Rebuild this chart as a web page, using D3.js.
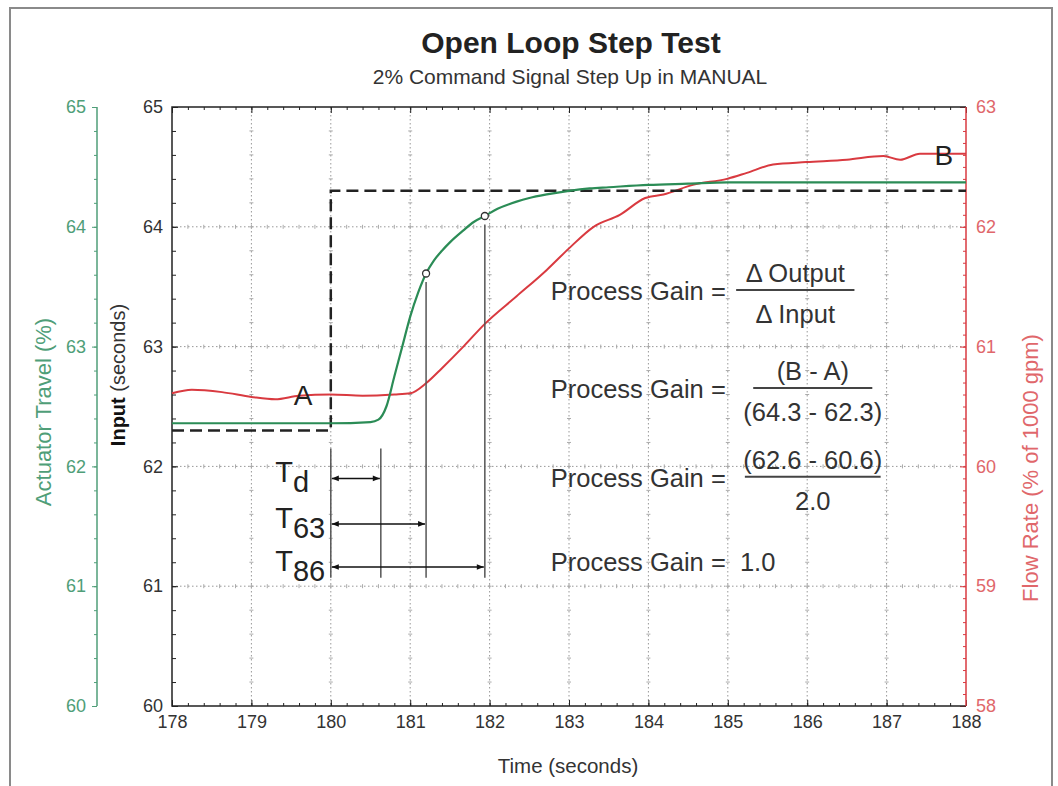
<!DOCTYPE html>
<html>
<head>
<meta charset="utf-8">
<script src="https://cdn.jsdelivr.net/npm/d3@7"></script>
<style>
  body { margin: 0; background: #fff; }
  svg text { font-family: "Liberation Sans", Arial, sans-serif; }
</style>
</head>
<body>
<div id="chart"></div>
<script>
// ---- data ----
const timeTicks = [178, 179, 180, 181, 182, 183, 184, 185, 186, 187, 188];
const percentTicks = [60, 61, 62, 63, 64, 65];
const flowTicks = [58, 59, 60, 61, 62, 63];

// actuator travel (%), left green axis
const actuatorTime = [178, 179, 180, 180.5, 180.6, 180.7, 180.8, 180.9, 181.0, 181.1, 181.2, 181.3, 181.4, 181.5, 181.67, 181.8, 181.94, 182.1, 182.34, 182.5, 182.72, 183.0, 183.26, 183.5, 184, 184.5, 185, 186, 187, 188];
const actuatorValue = [62.36, 62.36, 62.36, 62.37, 62.39, 62.5, 62.75, 63.0, 63.25, 63.45, 63.61, 63.72, 63.8, 63.87, 63.97, 64.04, 64.09, 64.15, 64.21, 64.24, 64.27, 64.3, 64.32, 64.33, 64.35, 64.36, 64.37, 64.37, 64.37, 64.37];

// input command (dashed)
const inputTime = [178, 180, 180, 188];
const inputValue = [62.3, 62.3, 64.3, 64.3];

// flow rate (% of 1000 gpm), right red axis
const flowTime = [178, 178.25, 178.63, 179.0, 179.3, 179.6, 180.0, 180.4, 180.8, 181.0, 181.21, 181.4, 181.67, 181.94, 182.34, 182.72, 183.0, 183.31, 183.64, 183.96, 184.19, 184.56, 184.99, 185.24, 185.57, 185.99, 186.5, 186.96, 187.17, 187.42, 188];
const flowValue = [60.61, 60.64, 60.62, 60.58, 60.56, 60.59, 60.60, 60.59, 60.60, 60.61, 60.70, 60.82, 61.0, 61.19, 61.42, 61.64, 61.82, 62.0, 62.10, 62.24, 62.27, 62.35, 62.40, 62.45, 62.52, 62.54, 62.56, 62.59, 62.56, 62.61, 62.61];

// 63% and 86% points on the actuator curve, dead time end
const markerTime = [181.2, 181.94];
const markerValue = [63.61, 64.09];
const deadTimeEnd = 180.63;

// process gain text rows
const gainRows = [
  { value: 63.39, num: "\u0394 Output", den: "\u0394 Input", center: 185.85, span: 1.49 },
  { value: 62.57, num: "(B - A)", den: "(64.3 - 62.3)", center: 186.07, span: 1.5 },
  { value: 61.83, num: "(62.6 - 60.6)", den: "2.0", center: 186.07, span: 1.71 },
  { value: 61.13, result: "1.0" }
];

// ---- layout ----
const width = 1058, height = 786;
const plot = { left: 172, right: 966, top: 107, bottom: 706 };
const greenAxisX = 97;
const green = "#2b8c56", greenText = "#4f9e78";
const red = "#d93a40", redText = "#e0676b";
const dark = "#333";
const tickFont = 18;

const svg = d3.select("#chart").append("svg")
  .attr("width", width)
  .attr("height", height);

const x = d3.scaleLinear().domain([178, 188]).range([plot.left, plot.right]);
const yPct = d3.scaleLinear().domain([60, 65]).range([plot.bottom, plot.top]);
const yFlow = d3.scaleLinear().domain([58, 63]).range([plot.bottom, plot.top]);

// outer frame
svg.append("path")
  .attr("d", `M10,${height} V8 H1052 V${height}`)
  .attr("fill", "none")
  .attr("stroke", "#8a8a8a")
  .attr("stroke-width", 2);

// titles
svg.append("text")
  .attr("x", 571).attr("y", 53)
  .attr("text-anchor", "middle")
  .style("font-size", "30px").style("font-weight", "bold")
  .attr("fill", "#222")
  .text("Open Loop Step Test");

svg.append("text")
  .attr("x", 570).attr("y", 84)
  .attr("text-anchor", "middle")
  .style("font-size", "21px")
  .attr("fill", dark)
  .text("2% Command Signal Step Up in MANUAL");

// ---- grid ----
const grid = svg.append("g");
grid.selectAll(".vgrid")
  .data(timeTicks.slice(1, -1))
  .join("line")
  .attr("x1", d => x(d)).attr("x2", d => x(d))
  .attr("y1", plot.top).attr("y2", plot.bottom)
  .attr("stroke", "#999").attr("stroke-dasharray", "1.5,2.5");
grid.selectAll(".hgrid")
  .data(percentTicks.slice(1, -1))
  .join("line")
  .attr("x1", plot.left).attr("x2", plot.right)
  .attr("y1", d => yPct(d)).attr("y2", d => yPct(d))
  .attr("stroke", "#999").attr("stroke-dasharray", "1.5,2.5");

// little tick marks along the grid lines
const minorY = d3.range(60.2, 64.9, 0.2);
const minorX = d3.range(178.2, 187.9, 0.2);
const crossV = timeTicks.slice(1, -1).flatMap(t => minorY.map(v => [t, v]));
const crossH = percentTicks.slice(1, -1).flatMap(v => minorX.map(t => [t, v]));
grid.selectAll(".cv").data(crossV).join("line")
  .attr("x1", d => x(d[0]) - 2).attr("x2", d => x(d[0]) + 2)
  .attr("y1", d => yPct(d[1])).attr("y2", d => yPct(d[1]))
  .attr("stroke", "#aaa");
grid.selectAll(".ch").data(crossH).join("line")
  .attr("x1", d => x(d[0])).attr("x2", d => x(d[0]))
  .attr("y1", d => yPct(d[1]) - 2).attr("y2", d => yPct(d[1]) + 2)
  .attr("stroke", "#aaa");

// ---- axes ----
function styleAxis(g, lineColor, textColor) {
  g.select(".domain").remove();
  g.selectAll("line").attr("stroke", lineColor);
  g.selectAll("text").attr("fill", textColor)
    .style("font-size", tickFont + "px")
    .attr("font-family", null);
}

const minorTime = d3.range(178, 188.01, 0.2);
const minorPct = d3.range(60, 65.01, 0.2);
const minorFlow = d3.range(58, 63.01, 0.1);

svg.append("g").attr("transform", `translate(0,${plot.bottom})`)
  .call(d3.axisBottom(x).tickValues(minorTime).tickSize(-3).tickFormat(""))
  .call(g => styleAxis(g, "#222", dark));
svg.append("g").attr("transform", `translate(0,${plot.bottom})`)
  .call(d3.axisBottom(x).tickValues(timeTicks).tickSize(-6).tickPadding(9).tickFormat(d3.format("d")))
  .call(g => styleAxis(g, "#222", dark));

svg.append("g").attr("transform", `translate(0,${plot.top})`)
  .call(d3.axisTop(x).tickValues(minorTime).tickSize(-3).tickFormat(""))
  .call(g => styleAxis(g, "#222", dark));
svg.append("g").attr("transform", `translate(0,${plot.top})`)
  .call(d3.axisTop(x).tickValues(timeTicks).tickSize(-6).tickFormat(""))
  .call(g => styleAxis(g, "#222", dark));

// input axis (left edge of plot)
svg.append("g").attr("transform", `translate(${plot.left},0)`)
  .call(d3.axisLeft(yPct).tickValues(minorPct).tickSize(-4).tickFormat(""))
  .call(g => styleAxis(g, "#222", dark));
svg.append("g").attr("transform", `translate(${plot.left},0)`)
  .call(d3.axisLeft(yPct).tickValues(percentTicks).tickSize(-6).tickPadding(9).tickFormat(d3.format("d")))
  .call(g => styleAxis(g, "#222", dark));

// flow axis (right edge, red)
svg.append("g").attr("transform", `translate(${plot.right},0)`)
  .call(d3.axisRight(yFlow).tickValues(minorFlow).tickSize(-3).tickFormat(""))
  .call(g => styleAxis(g, red, redText));
svg.append("g").attr("transform", `translate(${plot.right},0)`)
  .call(d3.axisRight(yFlow).tickValues(flowTicks).tickSize(-6).tickPadding(10).tickFormat(d3.format("d")))
  .call(g => styleAxis(g, red, redText));

// actuator axis (green, detached)
svg.append("g").attr("transform", `translate(${greenAxisX},0)`)
  .call(d3.axisLeft(yPct).tickValues(minorPct).tickSize(3).tickFormat(""))
  .call(g => styleAxis(g, greenText, greenText));
svg.append("g").attr("transform", `translate(${greenAxisX},0)`)
  .call(d3.axisLeft(yPct).tickValues(percentTicks).tickSize(5).tickPadding(6).tickFormat(d3.format("d")))
  .call(g => styleAxis(g, greenText, greenText));
svg.append("line")
  .attr("x1", greenAxisX).attr("x2", greenAxisX)
  .attr("y1", yPct(65)).attr("y2", yPct(60))
  .attr("stroke", greenText).attr("stroke-width", 1.5);

// plot frame
svg.append("path")
  .attr("d", `M${plot.right},${plot.top} H${plot.left} V${plot.bottom} H${plot.right}`)
  .attr("fill", "none").attr("stroke", "#222").attr("stroke-width", 1.5);
svg.append("line")
  .attr("x1", plot.right).attr("x2", plot.right)
  .attr("y1", plot.top).attr("y2", plot.bottom)
  .attr("stroke", red).attr("stroke-width", 1.5);

// axis titles
svg.append("text")
  .attr("transform", `translate(568,773)`)
  .attr("text-anchor", "middle")
  .style("font-size", "20.5px").attr("fill", dark)
  .text("Time (seconds)");

svg.append("text")
  .attr("transform", `translate(51,412) rotate(-90)`)
  .attr("text-anchor", "middle")
  .style("font-size", "22px").attr("fill", greenText)
  .text("Actuator Travel (%)");

const inTitle = svg.append("text")
  .attr("transform", `translate(125,375) rotate(-90)`)
  .attr("text-anchor", "middle")
  .style("font-size", "20px").attr("fill", dark);
inTitle.append("tspan").style("font-weight", "bold").attr("fill", "#111").text("Input");
inTitle.append("tspan").text(" (seconds)");

svg.append("text")
  .attr("transform", `translate(1038,468) rotate(-90)`)
  .attr("text-anchor", "middle")
  .style("font-size", "22px").attr("fill", redText)
  .text("Flow Rate (% of 1000 gpm)");

// ---- series ----
const line = d3.line().curve(d3.curveMonotoneX);

svg.append("path")
  .attr("d", line(flowTime.map((t, i) => [x(t), yFlow(flowValue[i])])))
  .attr("fill", "none").attr("stroke", red).attr("stroke-width", 2);

svg.append("path")
  .attr("d", d3.line()(inputTime.map((t, i) => [x(t), yPct(inputValue[i])])))
  .attr("fill", "none").attr("stroke", "#222").attr("stroke-width", 2.5)
  .attr("stroke-dasharray", "12,6");

svg.append("path")
  .attr("d", line(actuatorTime.map((t, i) => [x(t), yPct(actuatorValue[i])])))
  .attr("fill", "none").attr("stroke", green).attr("stroke-width", 2.2);

// ---- time constant annotations ----
const defs = svg.append("defs");
defs.append("marker")
  .attr("id", "head").attr("viewBox", "0 0 10 10")
  .attr("refX", 10).attr("refY", 5)
  .attr("markerWidth", 8).attr("markerHeight", 7)
  .attr("markerUnits", "userSpaceOnUse")
  .attr("orient", "auto-start-reverse")
  .append("path").attr("d", "M0,1 L10,5 L0,9 Z").attr("fill", "#111");

const lowEnd = 61.07;
const guides = [
  { t: 180, top: 62.15 },
  { t: deadTimeEnd, top: 62.15 },
  { t: markerTime[0], top: markerValue[0] - 0.07 },
  { t: markerTime[1], top: markerValue[1] - 0.07 }
];
svg.append("g").selectAll("line").data(guides).join("line")
  .attr("x1", d => x(d.t)).attr("x2", d => x(d.t))
  .attr("y1", d => yPct(d.top)).attr("y2", yPct(lowEnd))
  .attr("stroke", "#555").attr("stroke-width", 1.5);

const spans = [
  { sub: "d", end: deadTimeEnd, at: 61.9 },
  { sub: "63", end: markerTime[0], at: 61.52 },
  { sub: "86", end: markerTime[1], at: 61.16 }
];
svg.append("g").selectAll("line").data(spans).join("line")
  .attr("x1", x(180) + 1).attr("x2", d => x(d.end) - 1)
  .attr("y1", d => yPct(d.at)).attr("y2", d => yPct(d.at))
  .attr("stroke", "#111").attr("stroke-width", 1.5)
  .attr("marker-start", "url(#head)").attr("marker-end", "url(#head)");

const tLabels = svg.append("g").selectAll("text").data(spans).join("text")
  .attr("x", x(179.3)).attr("y", d => yPct(d.at) + 4)
  .style("font-size", "29px").attr("fill", "#222");
tLabels.append("tspan").text("T");
tLabels.append("tspan").attr("dy", 10).text(d => d.sub);

svg.append("g").selectAll("circle")
  .data(markerTime.map((t, i) => [t, markerValue[i]]))
  .join("circle")
  .attr("cx", d => x(d[0])).attr("cy", d => yPct(d[1]))
  .attr("r", 3.5).attr("fill", "#fff").attr("stroke", "#333").attr("stroke-width", 1.3);

// A and B labels
svg.append("text")
  .attr("x", x(179.65)).attr("y", yFlow(60.51))
  .attr("text-anchor", "middle")
  .style("font-size", "28px").attr("fill", "#222").text("A");
svg.append("text")
  .attr("x", x(187.72)).attr("y", yFlow(62.52))
  .attr("text-anchor", "middle")
  .style("font-size", "28px").attr("fill", "#222").text("B");

// ---- process gain block ----
const gain = svg.append("g").style("font-size", "25.5px").attr("fill", dark);
gainRows.forEach(r => {
  const by = yPct(r.value);
  gain.append("text").attr("x", x(182.77)).attr("y", by)
    .attr("xml:space", "preserve")
    .text(r.result ? "Process Gain =  " + r.result : "Process Gain =");
  if (r.result) return;
  gain.append("text").attr("x", x(r.center)).attr("y", by - 18)
    .attr("text-anchor", "middle").text(r.num);
  gain.append("line")
    .attr("x1", x(r.center - r.span / 2)).attr("x2", x(r.center + r.span / 2))
    .attr("y1", by - 10).attr("y2", by - 10)
    .attr("stroke", "#444").attr("stroke-width", 2);
  gain.append("text").attr("x", x(r.center)).attr("y", by + 23)
    .attr("text-anchor", "middle").text(r.den);
});
</script>
</body>
</html>
